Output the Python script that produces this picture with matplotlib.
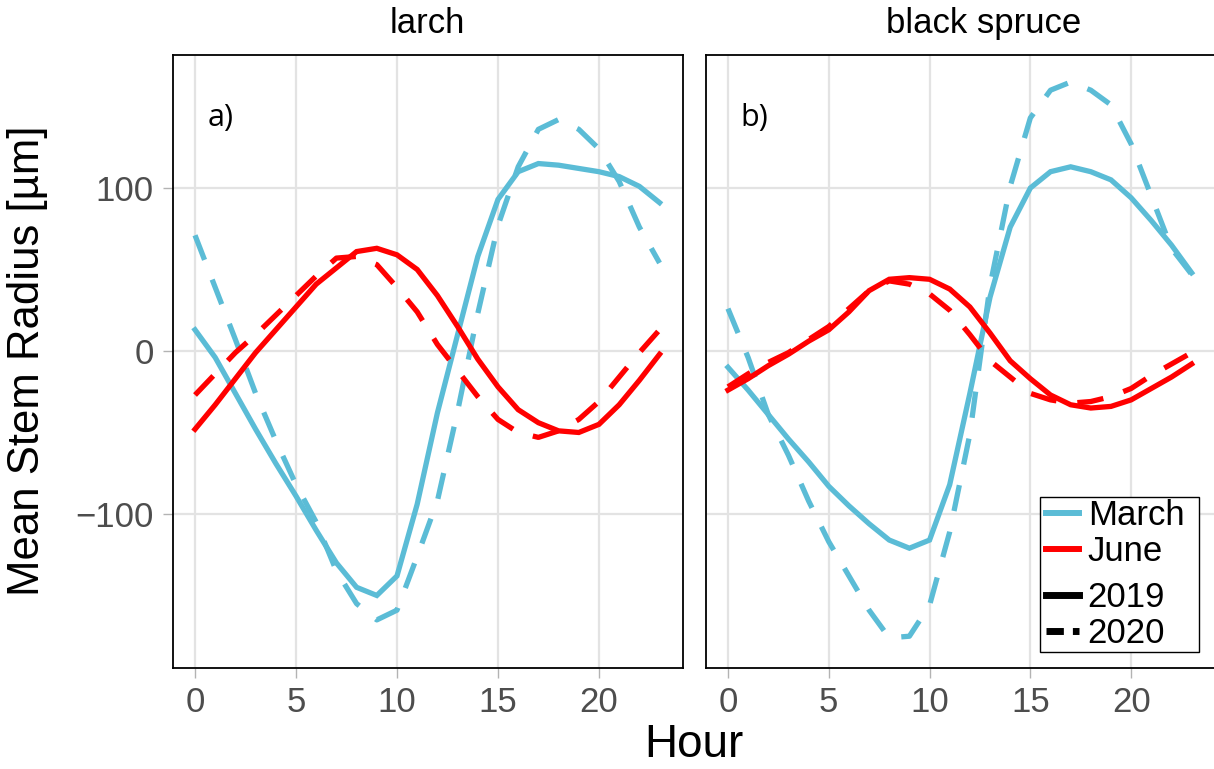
import matplotlib.pyplot as plt
from matplotlib.lines import Line2D
from matplotlib.patches import Rectangle

hours = list(range(24))

# larch
larch_mar_2019 = [13, -4, -26, -48, -69, -89, -110, -130, -145, -150, -138, -94,
                  -38, 10, 58, 93, 110, 115, 114, 112, 110, 107, 101, 91]
larch_mar_2020 = [71, 39, 7, -26, -55, -82, -105, -135, -155, -165, -159, -126,
                  -92, -37, 23, 77, 113, 136, 142, 136, 124, 104, 76, 54]
larch_jun_2019 = [-48, -33, -17, -1, 13, 27, 41, 51, 61, 63, 59, 50,
                  34, 15, -5, -22, -36, -44, -49, -50, -45, -33, -18, -2]
larch_jun_2020 = [-27, -14, -1, 10, 22, 34, 46, 57, 58, 53, 39, 24,
                  4, -12, -28, -42, -50, -53, -49, -42, -31, -16, -1, 13]

# black spruce
spruce_mar_2019 = [-10, -24, -39, -54, -68, -83, -95, -106, -116, -121, -116, -82,
                   -26, 33, 76, 100, 110, 113, 110, 105, 94, 80, 65, 48]
spruce_mar_2020 = [26, -4, -39, -64, -92, -117, -138, -159, -176, -175, -156, -111,
                   -51, 40, 101, 143, 160, 165, 160, 151, 127, 95, 63, 47]
spruce_jun_2019 = [-24, -17, -9, -2, 6, 13, 24, 37, 44, 45, 44, 38,
                   27, 11, -6, -17, -27, -33, -35, -34, -30, -23, -16, -8]
spruce_jun_2020 = [-22, -14, -7, -1, 7, 15, 26, 37, 43, 41, 35, 25,
                   10, -6, -16, -26, -30, -32, -31, -28, -23, -15, -8, -1]

panel_titles = ["larch", "black spruce"]
panel_tags = ["a)", "b)"]
month_labels = ["March", "June"]
year_labels = ["2019", "2020"]

MARCH = "#5BBCD6"
JUNE = "#FF0000"
GRID = "#E3E3E3"
TICKCOL = "#4D4D4D"

plt.rcParams['font.family'] = ['Liberation Sans', 'DejaVu Sans']

W, H = 1214, 769
fig = plt.figure(figsize=(W / 100, H / 100), dpi=100)

ax1 = fig.add_axes([173 / W, (H - 668) / H, 510 / W, 613 / H])
ax2 = fig.add_axes([706 / W, (H - 668) / H, 509 / W, 613 / H])

panels = [
    (ax1, larch_mar_2019, larch_mar_2020, larch_jun_2019, larch_jun_2020),
    (ax2, spruce_mar_2019, spruce_mar_2020, spruce_jun_2019, spruce_jun_2020),
]
# strip titles sit at these x pixel centres in the original
title_x = [427, 984]

lw = 3.8
dash = (5, 4)

for i, (ax, m19, m20, j19, j20) in enumerate(panels):
    ax.plot(hours, m19, color=MARCH, lw=lw, solid_joinstyle='miter')
    ax.plot(hours, m20, color=MARCH, lw=lw, linestyle=(0, dash))
    ax.plot(hours, j19, color=JUNE, lw=lw, solid_joinstyle='miter')
    ax.plot(hours, j20, color=JUNE, lw=lw, linestyle=(0, dash))

    ax.set_xlim(-1.09, 24.16)
    ax.set_ylim(-194.5, 181.6)
    ax.set_xticks([0, 5, 10, 15, 20])
    ax.set_yticks([-100, 0, 100])
    ax.grid(True, color=GRID, lw=1.6)
    ax.set_axisbelow(True)
    for s in ax.spines.values():
        s.set_color("black")
        s.set_linewidth(1.3)
    ax.tick_params(axis='both', length=7, width=1, color="#B3B3B3",
                   labelsize=25, labelcolor=TICKCOL)
    ax.tick_params(axis='x', pad=6)
    ax.tick_params(axis='y', pad=7)

    ax.text(0.6, 143, panel_tags[i], fontsize=22, family='Open Sans',
            ha='left', va='center')

    fig.text(title_x[i] / W, 1 - 33 / H, panel_titles[i], fontsize=25,
             ha='center', va='baseline')

ax2.tick_params(axis='y', left=False, labelleft=False)

# axis titles shared by both panels
fig.text(693.5 / W, 1 - 745 / H, "Hour", fontsize=33, ha='center', va='center')
fig.text(28 / W, 1 - 361 / H, "Mean Stem Radius [µm]", fontsize=31.5,
         rotation=90, ha='center', va='center')

# legend: one box holding two groups
box = Rectangle((1040 / W, 1 - 652 / H), 159 / W, 155 / H, transform=fig.transFigure,
                facecolor='white', edgecolor='black', lw=1.0, zorder=4, clip_on=False)
ax2.add_artist(box)

month_handles = [Line2D([], [], color=MARCH, lw=4.3),
                 Line2D([], [], color=JUNE, lw=4.3)]
leg1 = ax2.legend(month_handles, month_labels, loc='upper left',
                  bbox_to_anchor=(1046 / W, 1 - 499 / H), bbox_transform=fig.transFigure,
                  frameon=False, fontsize=25, handlelength=0.95, handletextpad=0.25,
                  labelspacing=0.08, borderpad=0.0, borderaxespad=0.0)
ax2.add_artist(leg1)

year_handles = [Line2D([], [], color='black', lw=5),
                Line2D([], [], color='black', lw=5, linestyle=(0, (2.5, 1.3)))]
leg2 = ax2.legend(year_handles, year_labels, loc='lower left',
                  bbox_to_anchor=(1046 / W, 1 - 650 / H), bbox_transform=fig.transFigure,
                  frameon=False, fontsize=25, handlelength=0.95, handletextpad=0.25,
                  labelspacing=0.08, borderpad=0.0, borderaxespad=0.0)

fig.savefig("out.png", dpi=100)
